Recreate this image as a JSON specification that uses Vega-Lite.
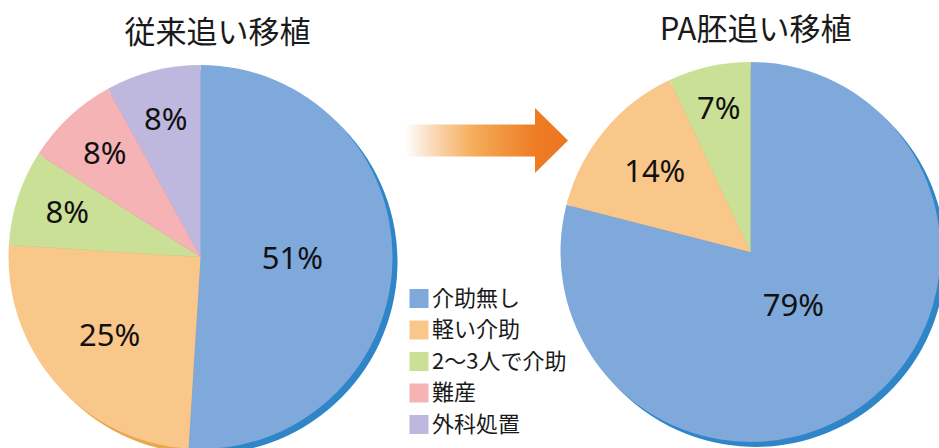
{
  "$schema": "https://vega.github.io/schema/vega-lite/v6.json",
  "padding": {"top": 15, "left": 0, "right": 0, "bottom": 0},
  "spacing": 0,
  "bounds": "flush",
  "background": "white",
  "config": {"view": {"stroke": null}, "font": "Noto Sans CJK JP"},
  "datasets": {
    "before": [
      {"category": "介助無し", "pct": 51, "label": "51%", "order": 1},
      {"category": "軽い介助", "pct": 25, "label": "25%", "order": 2},
      {"category": "2〜3人で介助", "pct": 8, "label": "8%", "order": 3},
      {"category": "難産", "pct": 8, "label": "8%", "order": 4},
      {"category": "外科処置", "pct": 8, "label": "8%", "order": 5}
    ],
    "after": [
      {"category": "介助無し", "pct": 79, "label": "79%", "order": 1},
      {"category": "軽い介助", "pct": 14, "label": "14%", "order": 2},
      {"category": "2〜3人で介助", "pct": 7, "label": "7%", "order": 3}
    ]
  },
  "hconcat": [
    {
      "width": 401,
      "height": 382,
      "title": {"text": "従来追い移植", "fontSize": 31, "font": "Noto Sans CJK JP", "fontWeight": "normal", "color": "#1a1a1a", "offset": 15, "dx": 17, "anchor": "middle"},
      "data": {"name": "before"},
      "encoding": {
        "theta": {"field": "pct", "type": "quantitative", "stack": true},
        "order": {"field": "order", "type": "quantitative"}
      },
      "layer": [
        {
          "mark": {"type": "arc", "outerRadius": 192, "xOffset": 5, "yOffset": 5},
          "encoding": {
            "fill": {"field": "category", "type": "nominal", "legend": null,
              "scale": {"domain": ["介助無し", "軽い介助", "2〜3人で介助", "難産", "外科処置"], "range": ["#2E86C8", "#E8A94E", "#9FC05E", "#E0868A", "#9B91C8"]}}
          }
        },
        {
          "mark": {"type": "arc", "outerRadius": 192},
          "encoding": {
            "color": {"field": "category", "type": "nominal", "legend": null,
              "scale": {"domain": ["介助無し", "軽い介助", "2〜3人で介助", "難産", "外科処置"], "range": ["#7FA8DB", "#FAC78B", "#C9E096", "#F5B3B6", "#BFB8DE"]}}
          }
        },
        {
          "mark": {"type": "text", "fontSize": 31, "font": "Noto Sans", "color": "#111111"},
          "encoding": {
            "text": {"field": "label", "type": "nominal"},
            "radius": {"field": "pct", "type": "quantitative", "scale": {"type": "linear", "domain": [51, 8], "range": [92, 140], "zero": false}}
          }
        }
      ]
    },
    {
      "width": 160,
      "height": 149,
      "layer": [
        {
          "data": {"values": [{"item": "arrow"}]},
          "mark": {
            "type": "point",
            "shape": "M-0.9325,-0.196L0.6625,-0.196L0.6625,-0.399L1.0675,0L0.6625,0.399L0.6625,0.196L-0.9325,0.196Z",
            "size": 26569,
            "filled": true,
            "opacity": 1,
            "strokeWidth": 0,
            "fill": {"gradient": "linear", "x1": 0, "x2": 1, "y1": 0, "y2": 0,
              "stops": [
                {"offset": 0, "color": "#FFFFFF"},
                {"offset": 0.2, "color": "#FAD3AE"},
                {"offset": 0.4, "color": "#F5B060"},
                {"offset": 0.6, "color": "#F19540"},
                {"offset": 0.8, "color": "#EE7C25"},
                {"offset": 1, "color": "#ED7520"}
              ]}
          },
          "encoding": {}
        },
        {
          "data": {"values": [
            {"category": "介助無し"},
            {"category": "軽い介助"},
            {"category": "2〜3人で介助"},
            {"category": "難産"},
            {"category": "外科処置"}
          ]},
          "encoding": {
            "y": {"field": "category", "type": "nominal", "axis": null,
              "scale": {"type": "point", "padding": 0, "domain": ["介助無し", "軽い介助", "2〜3人で介助", "難産", "外科処置"], "range": [232.5, 358.5]}}
          },
          "layer": [
            {
              "mark": {"type": "point", "shape": "square", "filled": true, "opacity": 1, "size": 361, "strokeWidth": 0},
              "encoding": {
                "x": {"value": 18},
                "color": {"field": "category", "type": "nominal", "legend": null,
                  "scale": {"domain": ["介助無し", "軽い介助", "2〜3人で介助", "難産", "外科処置"], "range": ["#7FA8DB", "#FAC78B", "#C9E096", "#F5B3B6", "#BFB8DE"]}}
              }
            },
            {
              "mark": {"type": "text", "align": "left", "baseline": "middle", "fontSize": 22, "font": "Noto Sans CJK JP", "color": "#1a1a1a"},
              "encoding": {
                "x": {"value": 31},
                "text": {"field": "category", "type": "nominal"}
              }
            }
          ]
        }
      ]
    },
    {
      "width": 379,
      "height": 372,
      "title": {"text": "PA胚追い移植", "fontSize": 31, "font": "Noto Sans CJK JP", "fontWeight": "normal", "color": "#1a1a1a", "offset": 15, "dx": 5, "anchor": "middle"},
      "data": {"name": "after"},
      "encoding": {
        "theta": {"field": "pct", "type": "quantitative", "stack": true},
        "order": {"field": "order", "type": "quantitative"}
      },
      "layer": [
        {
          "mark": {"type": "arc", "outerRadius": 190, "xOffset": 5, "yOffset": 5},
          "encoding": {
            "fill": {"field": "category", "type": "nominal", "legend": null,
              "scale": {"domain": ["介助無し", "軽い介助", "2〜3人で介助"], "range": ["#2E86C8", "#E8A94E", "#9FC05E"]}}
          }
        },
        {
          "mark": {"type": "arc", "outerRadius": 190},
          "encoding": {
            "color": {"field": "category", "type": "nominal", "legend": null,
              "scale": {"domain": ["介助無し", "軽い介助", "2〜3人で介助"], "range": ["#7FA8DB", "#FAC78B", "#C9E096"]}}
          }
        },
        {
          "mark": {"type": "text", "fontSize": 31, "font": "Noto Sans", "color": "#111111"},
          "encoding": {
            "text": {"field": "label", "type": "nominal"},
            "radius": {"field": "pct", "type": "quantitative", "scale": {"type": "log", "domain": [79, 7], "range": [70, 146]}}
          }
        }
      ]
    }
  ],
  "resolve": {
    "scale": {"color": "independent", "fill": "independent", "theta": "independent", "radius": "independent"},
    "legend": {"color": "independent", "fill": "independent"}
  }
}
